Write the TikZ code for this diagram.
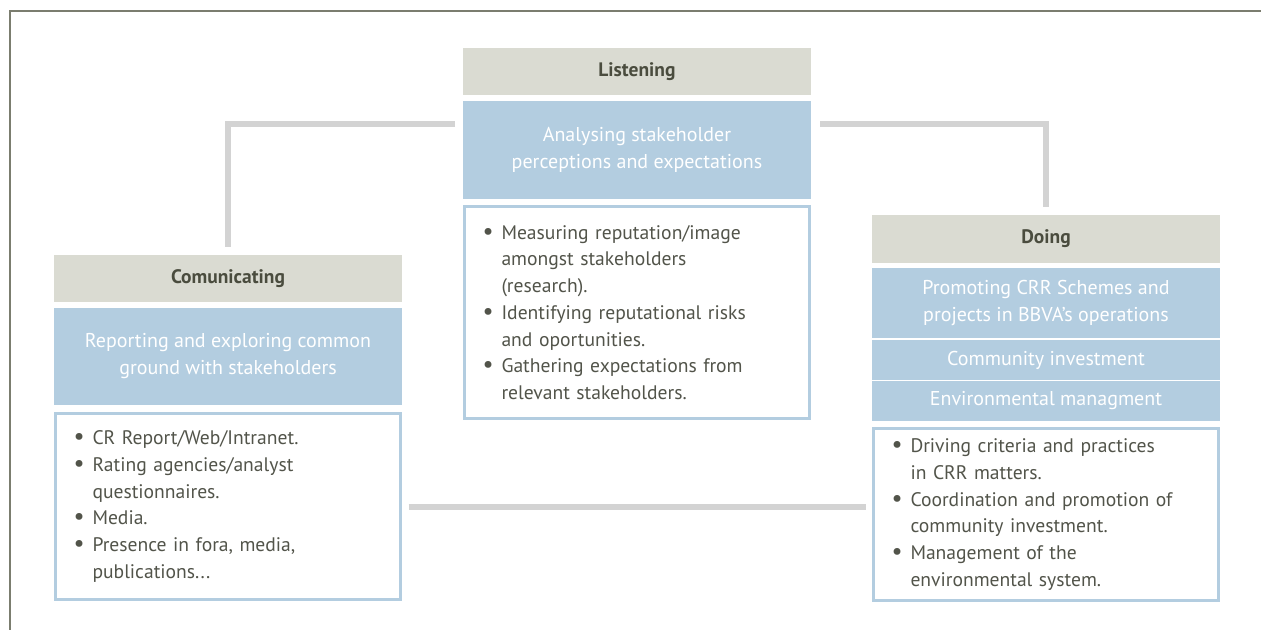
\documentclass[tikz,border=0pt]{standalone}
\usepackage{fontspec}
\setmainfont{PT Sans}
\usetikzlibrary{positioning}

\definecolor{headgray}{HTML}{DADBD2}
\definecolor{headtext}{HTML}{4A4C3E}
\definecolor{boxblue}{HTML}{B3CDE0}
\definecolor{textgray}{HTML}{52544A}
\definecolor{linkgray}{HTML}{D3D3D3}
\definecolor{framegray}{HTML}{7B7D6F}

\newcommand{\bul}{\makebox[19pt][l]{\scalebox{1.25}{\textbullet}}}
\newcommand{\cont}{\hspace*{19pt}}

\tikzset{
	head/.style={fill=headgray, text=headtext, minimum width=348pt, minimum height=47pt,
		inner sep=0pt, outer sep=0pt, font=\fontsize{19.5}{22}\selectfont\bfseries},
	topic/.style={fill=boxblue, text=white, minimum width=348pt, inner sep=0pt,
		outer sep=0pt, align=center, font=\fontsize{20}{27}\selectfont},
	itemlist/.style={draw=boxblue, line width=3pt, fill=white, text=textgray,
		text width=309pt, inner xsep=18pt, inner ysep=0pt, outer sep=0pt, align=left,
		font=\fontsize{19.6}{26.7}\selectfont},
	link/.style={draw=linkgray, line width=6pt},
}

\begin{document}
\begin{tikzpicture}[x=1pt,y=-1pt]
	\useasboundingbox (0,0) rectangle (1261,630);
	\draw[framegray, line width=2pt] (1261,11) -- (10,11) -- (10,630);

	% listening
	\node[head] (lishead) at (637,71.5) {Listening};
	\node[topic, minimum height=98pt, below=6pt of lishead] (lisblue)
		{Analysing stakeholder\\perceptions and expectations};
	\node[itemlist, minimum height=212pt, below=7.5pt of lisblue] (lislist)
		{\bul Measuring reputation/image\\
		 \cont amongst stakeholders\\
		 \cont (research).\\
		 \bul Identifying reputational risks\\
		 \cont and oportunities.\\
		 \bul Gathering expectations from\\
		 \cont relevant stakeholders.};

	% comunicating
	\node[head] (comhead) at (228,278.5) {Comunicating};
	\node[topic, minimum height=97pt, below=6pt of comhead] (comblue)
		{Reporting and exploring common\\ground with stakeholders};
	\node[itemlist, minimum height=186pt, below=8.5pt of comblue] (comlist)
		{\bul CR Report/Web/Intranet.\\
		 \bul Rating agencies/analyst\\
		 \cont questionnaires.\\
		 \bul Media.\\
		 \bul Presence in fora, media,\\
		 \cont publications...};

	% doing
	\node[head, minimum height=48pt] (doinghead) at (1046,239) {Doing};
	\node[topic, minimum height=70pt, below=5pt of doinghead] (doingblue)
		{Promoting CRR Schemes and\\projects in BBVA's operations};
	\node[topic, minimum height=40pt, below=2pt of doingblue] (commblue) {Community investment};
	\node[topic, minimum height=40pt, below=1pt of commblue] (envblue) {Environmental managment};
	\node[itemlist, minimum height=172pt, below=7.5pt of envblue] (doinglist)
		{\bul Driving criteria and practices\\
		 \cont in CRR matters.\\
		 \bul Coordination and promotion of\\
		 \cont community investment.\\
		 \bul Management of the\\
		 \cont environmental system.};

	% connectors
	\draw[link] ([xshift=-8pt,yshift=-23pt]lisblue.north west) -| ([yshift=8pt]comhead.north);
	\draw[link] ([xshift=9pt,yshift=-23pt]lisblue.north east) -| ([yshift=8pt]doinghead.north);
	\draw[link] ([xshift=8pt]comlist.east) -- ([xshift=-8pt]comlist.east -| doinglist.west);
\end{tikzpicture}
\end{document}
